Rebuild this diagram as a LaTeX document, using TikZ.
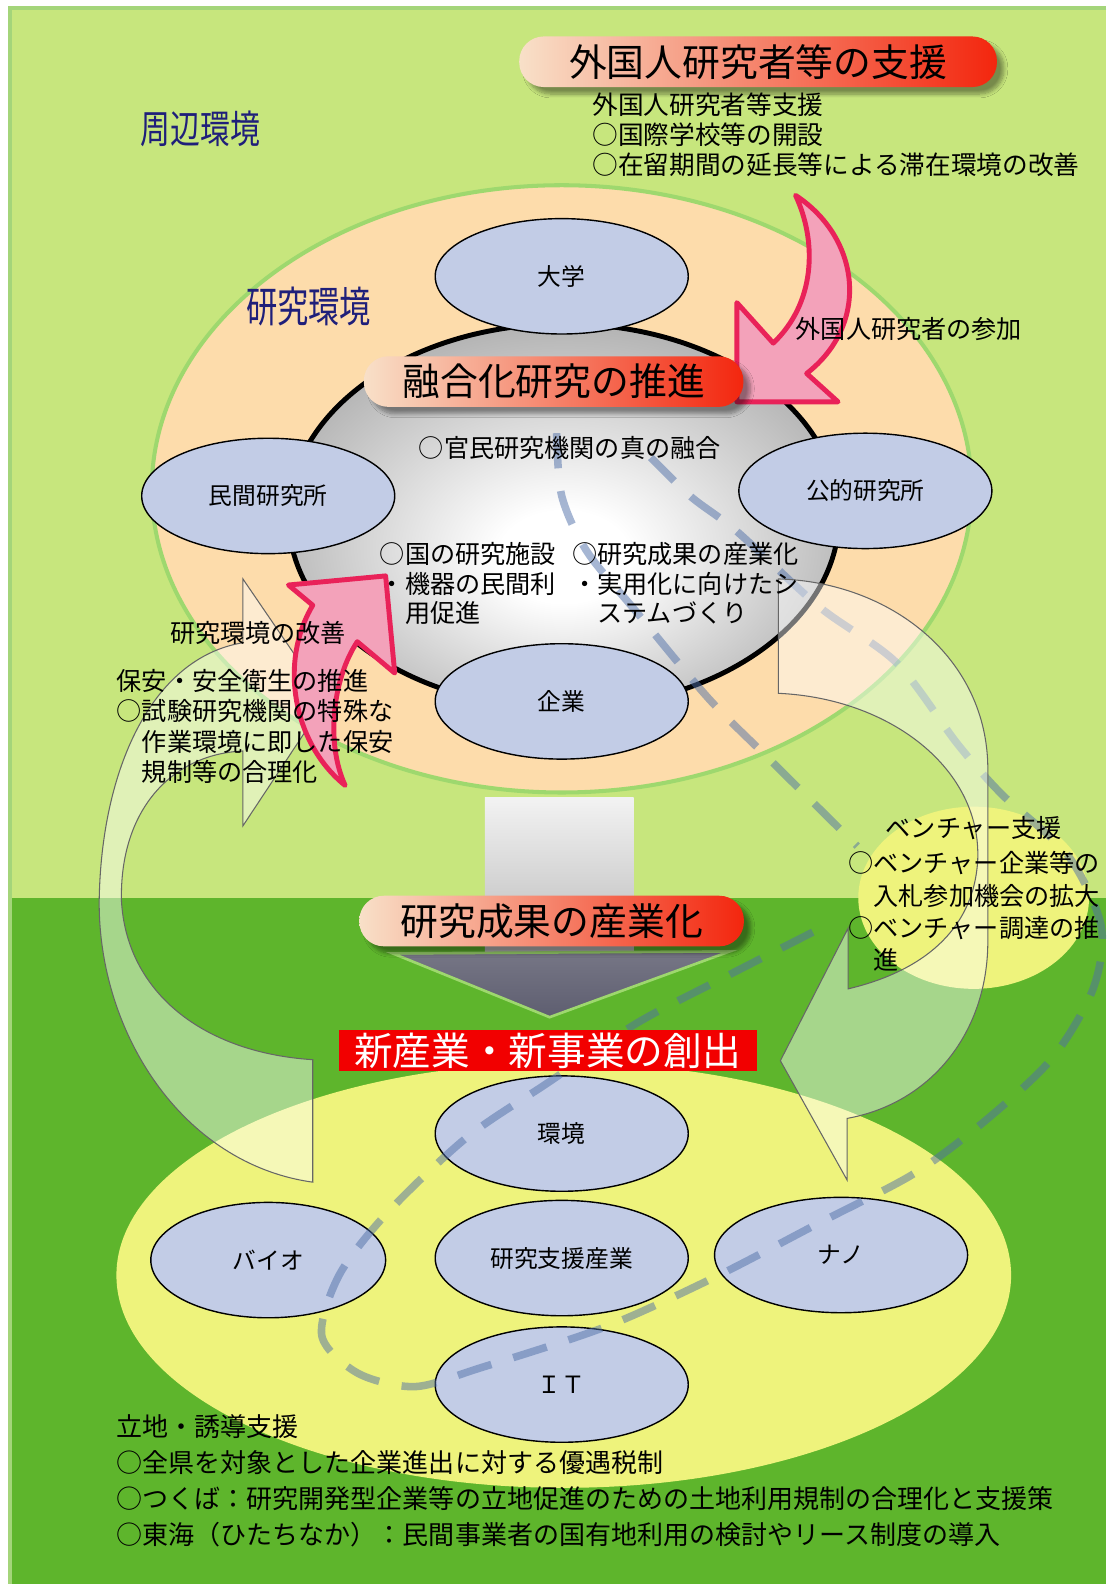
\documentclass[tikz,border=0pt]{standalone}
\usepackage{fontspec}
\setmainfont{Noto Sans CJK JP}
\usetikzlibrary{shapes.geometric,shadows.blur}
\definecolor{shuhenGreen}{HTML}{C7E67D}
\definecolor{frameGreen}{HTML}{A4D57A}
\definecolor{sangyoGreen}{HTML}{5EB52C}
\definecolor{kankyoPeach}{HTML}{FDDCAB}
\definecolor{peachEdge}{HTML}{9ED86E}
\definecolor{creamYellow}{HTML}{EEF37C}
\definecolor{ovalBlue}{HTML}{C2CCE6}
\definecolor{bannerL}{HTML}{F8E0C8}
\definecolor{bannerR}{HTML}{F3260E}
\definecolor{pinkFill}{HTML}{F3A2BA}
\definecolor{pinkLine}{HTML}{E92259}
\definecolor{dashBlue}{HTML}{4F6FA8}
\definecolor{titleNavy}{HTML}{1F1F7A}
\definecolor{sozoRed}{HTML}{F20000}
\definecolor{yajiGray}{HTML}{5E5E70}
\definecolor{yugoEdge}{HTML}{666666}
\pgfdeclareradialshading{yugoShade}{\pgfpoint{0bp}{-6bp}}{color(0bp)=(white); color(6bp)=(white); color(50bp)=(yugoEdge)}
\begin{document}
\begin{tikzpicture}[x=0.02024cm,y=-0.02024cm,
	oval/.style={ellipse,draw=black,line width=0.8pt,fill=ovalBlue,minimum width={250*\pxu},minimum height={114*\pxu},inner sep=0pt,font=\fontsize{13.5}{16}\selectfont},
	banner/.style={rectangle,rounded corners=14pt,left color=bannerL,right color=bannerR,minimum height={50*\pxu},inner sep=0pt,font=\fontsize{21.5}{24}\selectfont,blur shadow={shadow xshift=4pt,shadow yshift=-4pt,shadow blur steps=8}},
	txt/.style={inner sep=0pt,align=left,font=\fontsize{14.3}{17.2}\selectfont},
	bigarrow/.style={fill=white,fill opacity=0.45,draw=black!60,line width=0.6pt},
	pinkarrow/.style={fill=pinkFill,draw=pinkLine,line width=2.8pt,line join=round},
	dashline/.style={draw=dashBlue,line width=4.3pt,dash pattern=on 20pt off 13pt,opacity=0.5}]
	\def\pxu{0.02024cm} % 1 px
	\useasboundingbox (0,0) rectangle (1093,1568);
	% 背景
	\fill[white] (0,0) rectangle (1093,1568);
	\fill[shuhenGreen] (10,8) rectangle (1093,887);
	\fill[sangyoGreen] (10,887) rectangle (1093,1565);
	\draw[frameGreen,line width=2pt] (1093,8) -- (10,8) -- (10,1565);
	
	\draw[fill=kankyoPeach,draw=peachEdge,line width=2.3pt] (555,483) ellipse [x radius=405,y radius=300]; % 研究環境
	\fill[creamYellow] (557,1260) ellipse [x radius=442,y radius=210];
	\fill[creamYellow] (962,887) ellipse [x radius=114,y radius=90]; % ベンチャー
	
	% 下向きの矢印
	\shade[top color=white!90!gray,bottom color=gray!55] (479,788) rectangle (626,944);
	\shade[top color=yajiGray!85,bottom color=yajiGray,draw=peachEdge,line width=1.5pt] (388,942) -- (721,940) -- (543,1005) -- cycle;
	
	\shade[shading=yugoShade,draw=black,line width=2.8pt] (557,510) ellipse [x radius=272,y radius=190];
	
	\node[oval] (daigaku) at (555,273) {大学};
	\node[oval] (minkan) at (265,490) {民間研究所};
	\node[oval] (koteki) at (855,485) {公的研究所};
	\node[oval] (kigyo) at (555,693) {企業};
	\node[oval] (kankyo) at (555,1120) {環境};
	\node[oval,minimum width={232*\pxu}] (bio) at (265,1245) {バイオ};
	\node[oval] (shien) at (555,1243) {研究支援産業};
	\node[oval] (nano) at (831,1240) {ナノ};
	\node[oval] (it) at (555,1368) {ＩＴ};
	
	% 点線
	\draw[dashline] plot[smooth] coordinates {(550,428) (555,490) (580,545) (630,606) (700,690) (760,750) (847,836)};
	\draw[dashline] plot[smooth] coordinates {(803,921) (711,968) (629,1011) (541,1070) (461,1124) (382,1199) (335,1260) (318,1320) (354,1357) (410,1370) (473,1352) (598,1311) (706,1262) (808,1209) (904,1159) (975,1106) (1040,1045) (1080,977) (1088,915) (1055,845) (990,785) (946,735) (886,655) (810,600) (728,525) (683,491) (643,452)};
	
	% 大きい矢印
	\draw[bigarrow] (240,635) .. controls (150,650) and (100,760) .. (98,890)
		.. controls (97,1020) and (180,1150) .. (309,1168) -- (309,1047)
		.. controls (200,1040) and (125,980) .. (120,890)
		.. controls (118,800) and (170,745) .. (240,742) -- (240,816) -- (322,692) -- (240,572) -- cycle;
	\draw[bigarrow] (769,572) .. controls (880,575) and (976,650) .. (976,760)
		-- (976,930) .. controls (976,1020) and (920,1090) .. (837,1105)
		-- (837,1166) -- (771,1048) -- (838,917) -- (838,977)
		.. controls (910,960) and (962,920) .. (966,850)
		.. controls (970,760) and (880,690) .. (769,685) -- cycle;
	
	% ピンクの矢印
	\draw[pinkarrow] (786,193) .. controls (850,235) and (860,320) .. (797,369) -- (828,397) -- (728,397) -- (728,299) -- (764,339) .. controls (805,300) and (808,240) .. (786,193) -- cycle;
	\draw[pinkarrow] (341,776) .. controls (290,735) and (275,655) .. (309,598) -- (285,578) -- (381,569) -- (390,665) -- (353,634) .. controls (328,672) and (322,735) .. (341,776) -- cycle;
	
	\node[banner,minimum width={472*\pxu}] (shien1) at (749,61) {外国人研究者等の支援};
	\node[banner,minimum width={375*\pxu}] (yugo) at (547,377) {融合化研究の推進};
	\node[banner,minimum width={380*\pxu}] (seika) at (545,910) {研究成果の産業化};
	\node[fill=sozoRed,text=white,minimum width={413*\pxu},minimum height={41*\pxu},inner sep=0pt,font=\fontsize{22}{24}\selectfont] (sozo) at (541,1038) {新産業・新事業の創出};
	
	% 文字
	\node[text=titleNavy,font=\fontsize{17}{20}\selectfont] (shuhen) at (198,127) {\scalebox{1}[1.3]{周辺環境}};
	\node[text=titleNavy,font=\fontsize{17.8}{20}\selectfont] (kenkyu) at (305,303) {\scalebox{1}[1.35]{研究環境}};
	\node[txt,anchor=north west,font=\fontsize{14.6}{17.2}\selectfont] (gaikoku) at (585,91) {外国人研究者等支援\\○国際学校等の開設\\○在留期間の延長等による滞在環境の改善};
	\node[txt] (sanka) at (898,325) {外国人研究者の参加};
	\node[txt] (kanmin) at (563,443) {○官民研究機関の真の融合};
	\node[txt,anchor=north west,font=\fontsize{14.3}{16.7}\selectfont] (kuni) at (375,536) {○国の研究施設\\・機器の民間利\\\hspace*{1em}用促進};
	\node[txt,anchor=north west,font=\fontsize{14.3}{16.7}\selectfont] (sangyoka) at (565,536) {○研究成果の産業化\\・実用化に向けたシ\\\hspace*{1em}ステムづくり};
	\node[txt] (kaizen) at (255,625) {研究環境の改善};
	\node[txt,anchor=north west] (hoan) at (115,661) {保安・安全衛生の推進\\○試験研究機関の特殊な\\\hspace*{1em}作業環境に即した保安\\\hspace*{1em}規制等の合理化};
	\node[txt] (venture) at (962,818) {ベンチャー支援};
	\node[txt,anchor=north west,font=\fontsize{14.3}{18.4}\selectfont] (ventureList) at (838,841) {○ベンチャー企業等の\\\hspace*{1em}入札参加機会の拡大\\○ベンチャー調達の推\\\hspace*{1em}進};
	\node[txt,anchor=north west,font=\fontsize{14.8}{20.6}\selectfont] (richi) at (115,1397) {立地・誘導支援\\○全県を対象とした企業進出に対する優遇税制\\○つくば：研究開発型企業等の立地促進のための土地利用規制の合理化と支援策\\○東海（ひたちなか）：民間事業者の国有地利用の検討やリース制度の導入};
\end{tikzpicture}
\end{document}
